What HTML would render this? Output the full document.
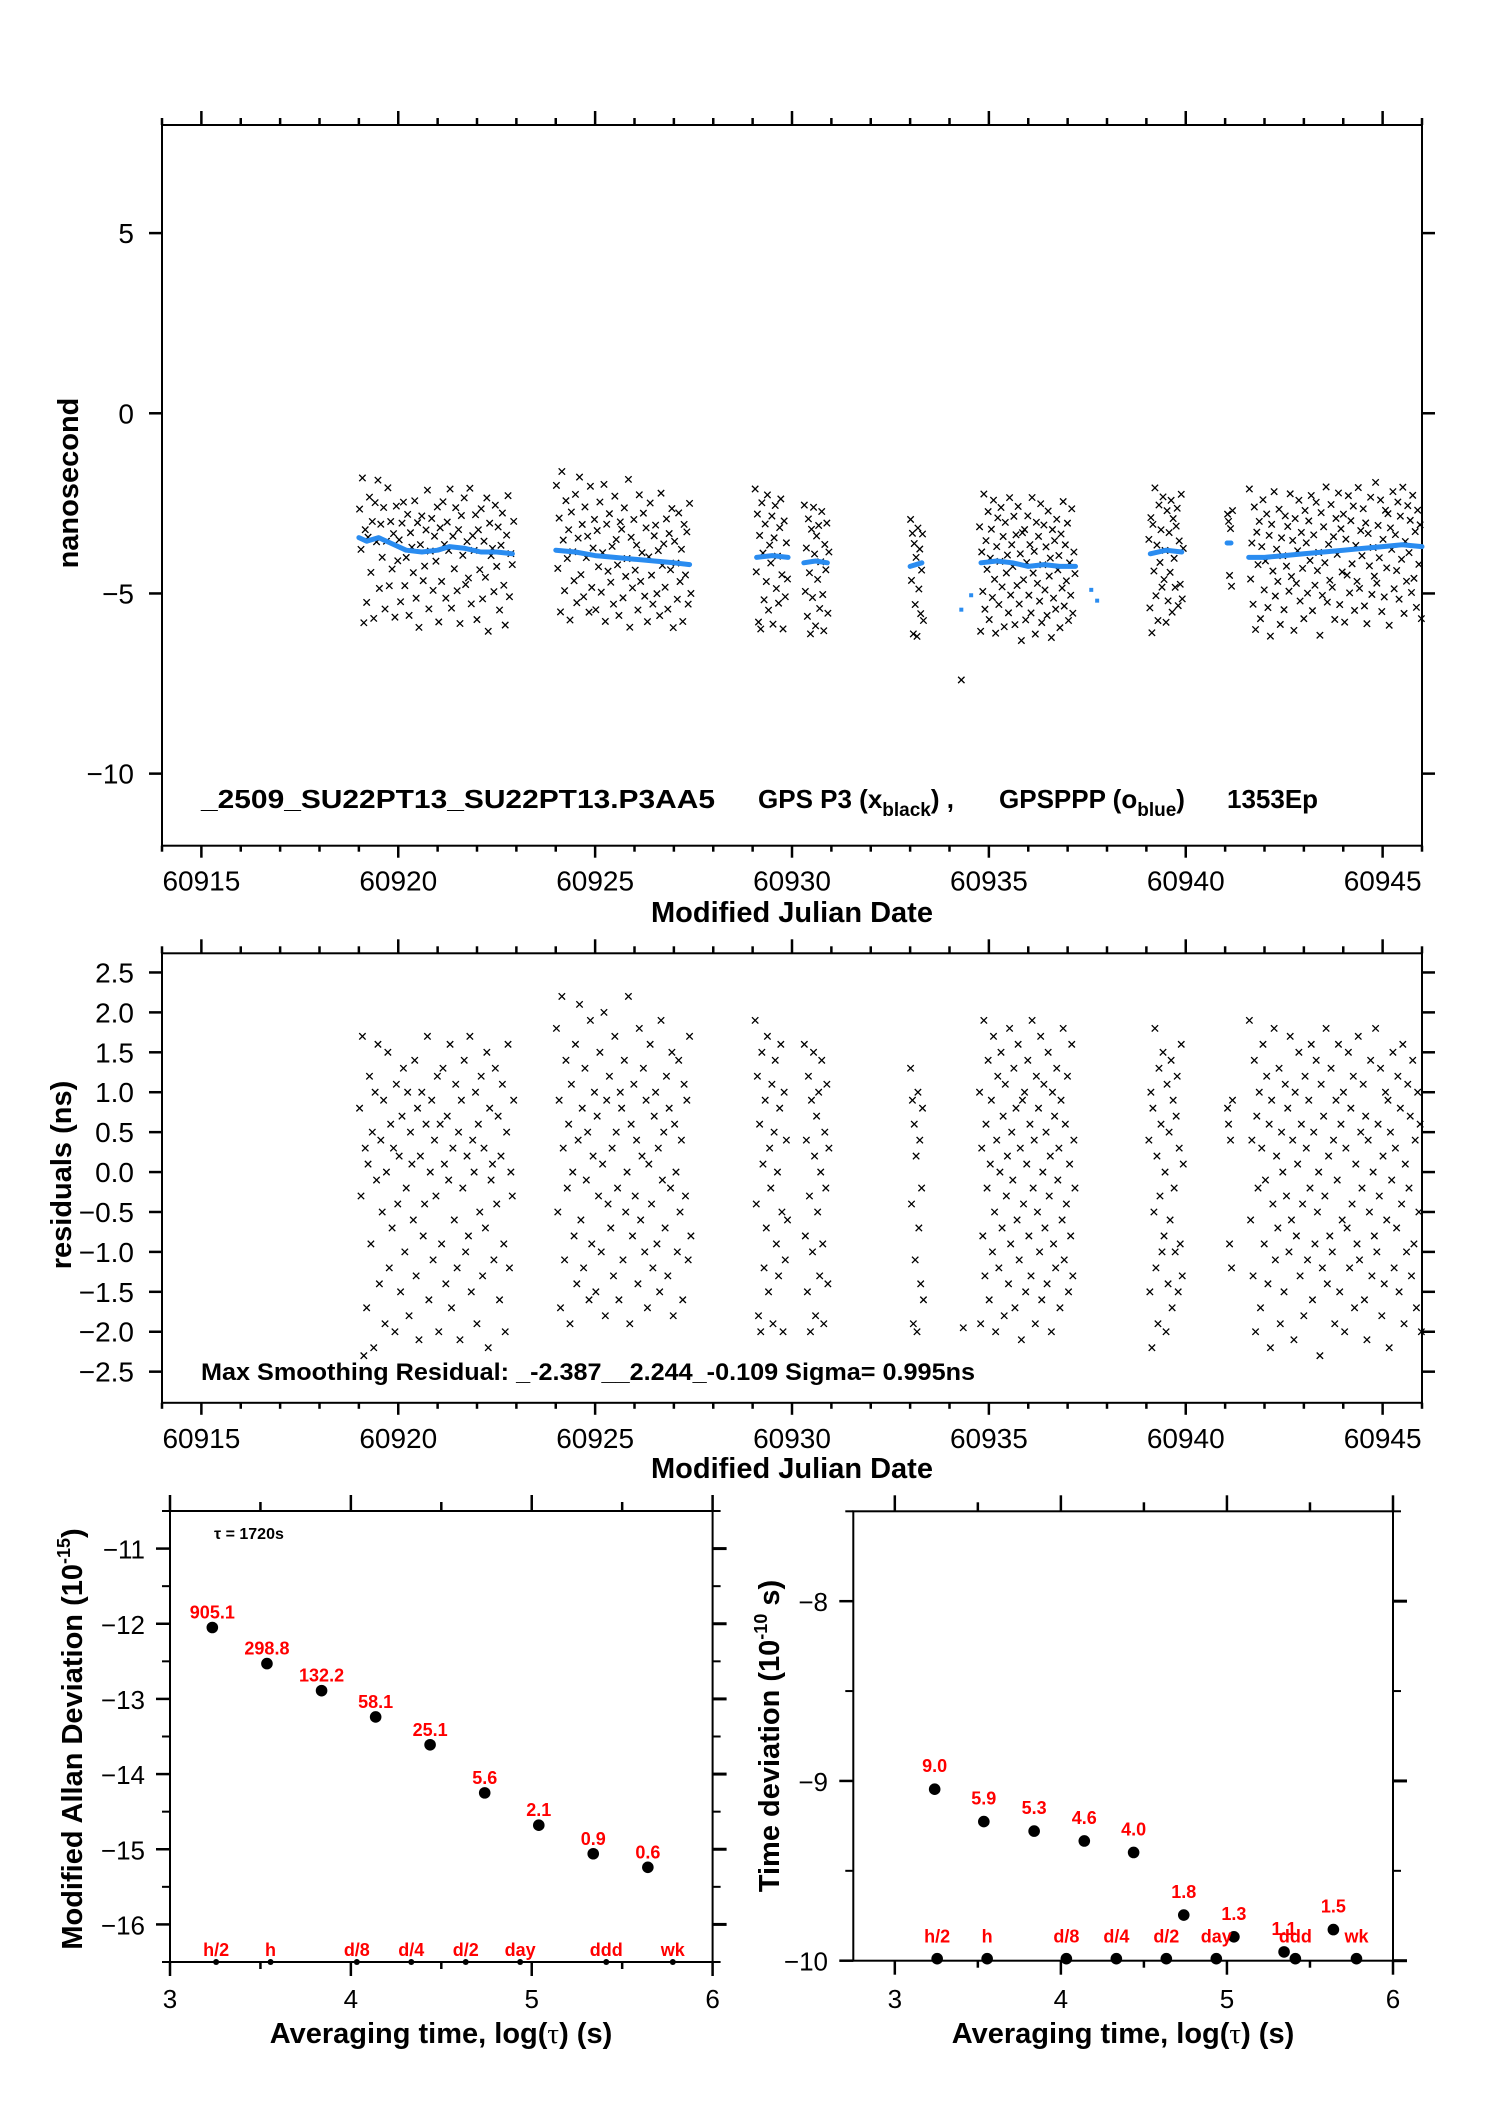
<!DOCTYPE html>
<html><head><meta charset="utf-8"><title>GPS P3 time comparison</title>
<style>
html,body{margin:0;padding:0;background:#fff;}
svg{display:block;font-family:"Liberation Sans",sans-serif;}
</style></head><body>
<svg id="fig" width="1488" height="2105" viewBox="0 0 1488 2105" xmlns="http://www.w3.org/2000/svg">
<rect width="1488" height="2105" fill="#fff"/>

<g id="p1">
  <rect x="162" y="125" width="1260" height="720.7" fill="none" stroke="#000" stroke-width="2"/>
  <text x="78" y="483" transform="rotate(-90 78 483)" text-anchor="middle" font-size="29" font-weight="bold">nanosecond</text>
  <text x="792" y="922" text-anchor="middle" font-size="29" font-weight="bold">Modified Julian Date</text>
  <text x="201" y="808" font-size="26" font-weight="bold" textLength="514" lengthAdjust="spacingAndGlyphs">_2509_SU22PT13_SU22PT13.P3AA5</text>
  <text x="758" y="808" font-size="26" font-weight="bold">GPS P3 (x<tspan font-size="19" dy="8">black</tspan><tspan dy="-8">) ,</tspan></text>
  <text x="999" y="808" font-size="26" font-weight="bold">GPSPPP (o<tspan font-size="19" dy="8">blue</tspan><tspan dy="-8">)</tspan></text>
  <text x="1227" y="808" font-size="26" font-weight="bold">1353Ep</text>
</g>

<g id="p2">
  <rect x="162" y="953.3" width="1260" height="449.5" fill="none" stroke="#000" stroke-width="2"/>
  <text x="71" y="1175" transform="rotate(-90 71 1175)" text-anchor="middle" font-size="29" font-weight="bold">residuals (ns)</text>
  <text x="792" y="1478" text-anchor="middle" font-size="29" font-weight="bold">Modified Julian Date</text>
  <text x="201" y="1380" font-size="24" font-weight="bold" textLength="774" lengthAdjust="spacingAndGlyphs">Max Smoothing Residual: _-2.387__2.244_-0.109  Sigma= 0.995ns</text>
</g>

<g id="p3">
  <rect x="170" y="1511" width="542.6" height="451" fill="none" stroke="#000" stroke-width="2"/>
  <text x="82" y="1739" transform="rotate(-90 82 1739)" text-anchor="middle" font-size="29" font-weight="bold">Modified Allan Deviation (10<tspan font-size="18" dy="-12">-15</tspan><tspan dy="12">)</tspan></text>
  <text x="441" y="2043" text-anchor="middle" font-size="29" font-weight="bold">Averaging time, log(<tspan font-family="Liberation Serif, serif" font-weight="normal">τ</tspan>) (s)</text>
  <text x="214" y="1539" font-size="16" font-weight="bold">τ = 1720s</text>
</g>

<g id="p4">
  <rect x="853.3" y="1511.3" width="539.7" height="449.4" fill="none" stroke="#000" stroke-width="2"/>
  <text x="779" y="1736" transform="rotate(-90 779 1736)" text-anchor="middle" font-size="29" font-weight="bold">Time deviation (10<tspan font-size="18" dy="-12">-10</tspan><tspan dy="12"> s)</tspan></text>
  <text x="1123" y="2043" text-anchor="middle" font-size="29" font-weight="bold">Averaging time, log(<tspan font-family="Liberation Serif, serif" font-weight="normal">τ</tspan>) (s)</text>
</g>
</svg>

<script>
// ---------- time series data ----------
const segStart = [60919.0, 60924.0, 60929.05, 60930.3, 60933.0, 60934.75, 60939.05, 60941.05, 60941.6];
const segEnd   = [60922.95, 60927.45, 60929.9, 60930.95, 60933.35, 60937.2, 60939.95, 60941.2, 60946.0];
const resA = [0.8,-0.3,1.7,-2.3,0.3,-1.7,0.1,1.2,-0.9,0.5,-2.2,1.0,-0.1,1.6,-1.4,0.4,-0.5,0.9,-1.9,0.0,1.5,-1.2,0.6,-0.7,0.3,-2.0,1.1,-0.4,0.2,-1.5,0.7,1.3,-1.0,-0.2,1.0,-1.8,0.5,0.1,-0.6,1.4,-1.3,0.8,-2.1,0.2,1.0,-0.8,-0.4,0.6,1.7,-1.6,0.0,0.9,-1.1,0.4,-0.3,1.2,-2.0,0.6,-0.9,1.3,0.1,-1.4,0.7,-0.1,1.6,-1.7,0.3,-0.6,1.1,-1.2,0.5,-2.1,0.9,-0.2,1.4,-1.0,0.2,-0.8,1.7,-1.5,0.4,0.0,1.0,-1.9,0.6,-0.5,1.2,-1.3,0.3,-0.7,1.5,-2.2,0.8,-0.1,0.1,-1.1,1.3,-0.4,0.7,-1.6,0.2,1.1,-0.9,-2.0,0.5,1.6,-1.2,0.0,-0.3,0.9];
const resB = [1.8,-0.5,0.9,-1.7,2.2,0.3,-1.1,1.4,-0.2,0.6,-1.9,1.1,0.0,-0.8,1.6,-1.4,0.4,2.1,-0.6,0.8,-1.2,1.3,-0.1,0.5,-1.6,1.9,-0.9,0.2,1.0,-1.5,0.7,-0.3,1.5,-1.0,0.1,2.0,-1.8,0.9,-0.4,1.2,-0.7,0.3,-1.3,1.7,0.5,-0.2,-1.6,1.0,0.8,-1.1,1.4,-0.5,0.0,2.2,-1.9,0.6,-0.8,1.1,-0.3,0.4,-1.4,1.8,-0.6,0.2,1.3,-1.0,0.9,-1.7,0.1,1.6,-0.4,-1.2,0.7,1.0,-0.9,0.3,-1.5,1.9,-0.1,0.5,-0.7,1.2,-1.3,0.8,-0.2,1.5,-1.8,0.6,0.0,-1.0,1.4,-0.5,0.4,-1.6,1.1,-0.3,0.9,-1.1,1.7,-0.8];
const resC1 = [1.9,-0.4,1.2,-1.8,0.6,-2.0,1.5,0.1,-1.2,0.9,-0.7,1.7,-1.5,0.3,-0.2,1.1,-1.9,0.5,1.4,-0.9,0.0,-1.3,0.8,1.6,-0.5,-2.0,1.0,-1.1,0.4,-0.6];
const resC2 = [1.6,-0.8,0.4,-1.5,1.2,-0.3,-2.0,0.9,-1.0,1.5,0.2,-1.8,0.7,-0.5,1.0,-1.3,0.0,1.4,-0.9,-1.9,0.5,-0.2,1.1,-1.4,0.3];
const resD = [1.3,-0.4,0.9,-1.9,0.6,-1.1,0.2,-2.0,1.0,-0.7,0.4,-1.4,-0.2,0.8,-1.6];
const resE = [1.0,-1.9,0.3,-0.8,1.9,-1.3,0.6,-0.2,1.4,-1.6,0.1,0.9,-1.0,1.7,-0.5,-2.0,0.4,1.2,-1.2,0.0,1.5,-0.7,0.7,-1.8,1.1,-0.3,0.2,-1.4,1.8,-0.9,0.5,-0.1,1.3,-1.7,0.8,-0.6,1.6,-1.1,0.3,-2.1,0.9,-0.4,1.0,-1.5,0.1,1.4,-0.8,0.6,-1.3,1.9,-0.2,0.4,-1.9,1.2,-0.5,0.8,-1.0,1.7,-1.6,0.0,1.1,-0.7,0.5,-1.4,1.5,-0.3,0.2,-2.0,1.0,-0.9,0.7,-1.2,1.3,-0.1,0.3,-1.7,0.9,-0.6,1.8,-1.1,0.6,-0.4,1.2,-1.5,0.1,-0.8,1.6,-1.3,0.4,-0.2];
const resF = [0.4,-1.5,1.0,-2.2,0.8,-0.5,1.8,-1.2,0.2,-1.9,1.3,-0.3,0.6,-1.0,1.5,-0.8,0.0,-2.0,1.1,-1.4,0.5,-0.6,1.4,-1.7,0.9,-0.2,-1.0,0.7,1.2,-1.5,0.3,-0.9,1.6,-1.3,0.1];
const resG1 = [0.8,0.6,-0.9,0.4,-1.2,0.9];
const resG2 = [1.9,-0.6,0.4,-1.3,1.4,-2.0,0.7,-0.2,1.0,-1.7,0.3,1.6,-0.9,-0.1,1.2,-1.4,0.6,-2.2,0.9,-0.4,1.8,-1.1,0.2,-0.7,1.3,-1.9,0.5,0.0,-1.5,1.1,-0.3,0.8,-1.0,1.7,-0.6,0.4,-2.1,1.0,-0.8,0.1,1.5,-1.3,0.6,-0.4,-1.8,1.2,0.3,-1.1,0.9,-0.2,1.6,-1.6,0.5,-0.9,1.4,-0.5,0.0,-2.3,1.1,-1.2,0.7,-0.3,1.8,-1.4,0.2,-0.8,1.3,-1.0,0.4,-1.9,0.9,-0.1,1.6,-1.5,0.6,-0.6,1.0,-2.0,0.3,-0.7,1.5,-1.2,0.8,-0.4,1.2,-1.7,0.1,-0.9,1.7,-1.1,0.5,-0.2,1.1,-1.6,0.7,-2.1,0.4,-0.5,1.4,-1.3,0.0,-0.8,1.8,-1.0,0.6,-0.3,1.3,-1.8,0.2,-1.4,1.0,-0.6,0.9,-2.2,0.5,-0.1,1.5,-1.2,0.3,-0.7,1.2,-1.5,0.8,-0.4,1.6,-1.9,0.1,-1.0,1.1,-0.2,0.7,-1.3,1.4,-0.9,0.4,-1.7,1.0,-0.5,0.6,-2.0];
const segResid = [resA, resB, resC1, resC2, resD, resE, resF, resG1, resG2];
const smoothT = [60919.0,60919.2,60919.5,60919.8,60920.2,60920.6,60921.0,60921.3,60921.7,60922.1,60922.5,60922.9,null,60924.0,60924.5,60925.0,60925.5,60926.0,60926.5,60927.0,60927.4,null,60929.1,60929.5,60929.9,null,60930.3,60930.6,60930.9,null,60933.0,60933.3,null,60934.8,60935.2,60935.6,60936.0,60936.4,60936.8,60937.2,null,60939.1,60939.5,60939.9,null,60941.05,60941.15,null,60941.6,60942.0,60942.5,60943.0,60943.5,60944.0,60944.5,60945.0,60945.5,60946.0];
const smoothV = [-3.45,-3.55,-3.45,-3.6,-3.8,-3.85,-3.8,-3.7,-3.75,-3.85,-3.85,-3.9,null,-3.8,-3.85,-3.95,-4.0,-4.05,-4.1,-4.15,-4.2,null,-4.0,-3.95,-4.0,null,-4.15,-4.1,-4.15,null,-4.25,-4.15,null,-4.15,-4.1,-4.15,-4.25,-4.2,-4.25,-4.25,null,-3.9,-3.8,-3.85,null,-3.6,-3.6,null,-4.0,-4.0,-3.95,-3.9,-3.85,-3.8,-3.75,-3.7,-3.65,-3.7];
const blueT = [60934.3, 60934.55, 60937.6, 60937.75];
const blueV = [-5.45, -5.05, -4.9, -5.2];
const outT = [60934.3];
const outV = [-7.4];
const extraResT = [60934.35];
const extraResV = [-1.95];
const mjdTicks = [60915, 60920, 60925, 60930, 60935, 60940, 60945];
const p1YTicks = [5, 0, -5, -10];
const p2YTicks = [2.5, 2.0, 1.5, 1.0, 0.5, 0.0, -0.5, -1.0, -1.5, -2.0, -2.5];

// ---------- stability data ----------
const mdevLogTau = [3.234, 3.536, 3.838, 4.137, 4.438, 4.740, 5.039, 5.340, 5.642];
const mdevVal = [-12.05, -12.53, -12.89, -13.24, -13.61, -14.25, -14.68, -15.06, -15.24];
const mdevLabels = ['905.1', '298.8', '132.2', '58.1', '25.1', '5.6', '2.1', '0.9', '0.6'];
const tdevLogTau = [3.240, 3.536, 3.839, 4.141, 4.438, 4.740, 5.042, 5.344, 5.641];
const tdevVal = [-9.046, -9.226, -9.279, -9.334, -9.398, -9.746, -9.867, -9.951, -9.827];
const tdevLabels = ['9.0', '5.9', '5.3', '4.6', '4.0', '1.8', '1.3', '1.1', '1.5'];
const markLogTau = [3.255, 3.556, 4.033, 4.334, 4.635, 4.936, 5.412, 5.780];
const markNames = ['h/2', 'h', 'd/8', 'd/4', 'd/2', 'day', 'ddd', 'wk'];
const mdevYTicks = [-11, -12, -13, -14, -15, -16];
const tdevYTicks = [-8, -9, -10];
const tauTicks = [3, 4, 5, 6];

// ---------- scales ----------
const NS = 'http://www.w3.org/2000/svg';
function sx1(m) { return 162 + (m - 60914) / 32 * 1260; }
function sy1(v) { return 125 + (8 - v) / 20 * 720.7; }
function sy2(v) { return 953.3 + (2.74 - v) / 5.63 * 449.5; }
function sx3(t) { return 170 + (t - 3) / 3 * 542.6; }
function sy3(v) { return 1511 + (-10.5 - v) / 6 * 451; }
function sx4(t) { return 853.3 + (t - 2.75) / 3.25 * 539.7; }
function sy4(v) { return 1511.3 + (-7.5 - v) / 2.5 * 449.4; }
function mk(tag, attrs, parent) {
  const e = document.createElementNS(NS, tag);
  for (const k in attrs) e.setAttribute(k, attrs[k]);
  parent.appendChild(e);
  return e;
}
function fmt(v, d) { const s = Math.abs(v).toFixed(d); return (v < 0 ? '\u2212' : '') + s; }
function smoothAt(t) {
  let best = null, bd = 1e9;
  for (let i = 0; i < smoothT.length; i++) {
    if (smoothT[i] === null) continue;
    if (i + 1 < smoothT.length && smoothT[i + 1] !== null && t >= smoothT[i] && t <= smoothT[i + 1]) {
      const f = (t - smoothT[i]) / (smoothT[i + 1] - smoothT[i]);
      return smoothV[i] + f * (smoothV[i + 1] - smoothV[i]);
    }
    const d = Math.abs(t - smoothT[i]);
    if (d < bd) { bd = d; best = smoothV[i]; }
  }
  return best;
}
function crossPath(x, y, h) {
  return 'M' + (x - h) + ' ' + (y - h) + 'L' + (x + h) + ' ' + (y + h) + 'M' + (x - h) + ' ' + (y + h) + 'L' + (x + h) + ' ' + (y - h);
}

const p1 = document.getElementById('p1');
const p2 = document.getElementById('p2');
const p3 = document.getElementById('p3');
const p4 = document.getElementById('p4');

// ---------- MJD axes (top & middle) ----------
function mjdAxes(g, yTop, yBot, name) {
  for (let d = 60914; d <= 60946; d++) {
    const x = sx1(d);
    const major = d % 5 === 0;
    const t1 = mk('line', {x1: x, x2: x, y1: yTop, y2: yTop - (major ? 14 : 7), stroke: '#000', 'stroke-width': 2.5}, g);
    
    
    const t2 = mk('line', {x1: x, x2: x, y1: yBot, y2: yBot + (major ? 12 : 6), stroke: '#000', 'stroke-width': 2.5}, g);
    
    
  }
  mjdTicks.forEach(function (d) {
    const lb = mk('text', {x: sx1(d), y: yBot + 45, 'text-anchor': 'middle', 'font-size': 28}, g);
    lb.textContent = String(d);
    
    
  });
}
mjdAxes(p1, 125, 845.7, 'mjd-top');
mjdAxes(p2, 953.3, 1402.8, 'mjd-middle');

function yAxis(g, vals, sy, xl, xr, dec, name, fs, lx) {
  vals.forEach(function (v) {
    const y = sy(v);
    const a = mk('line', {x1: xl - 13, x2: xl, y1: y, y2: y, stroke: '#000', 'stroke-width': 2.5}, g);
    
    
    const b = mk('line', {x1: xr, x2: xr + 13, y1: y, y2: y, stroke: '#000', 'stroke-width': 2.5}, g);
    
    
    const lb = mk('text', {x: lx, y: y + 10, 'text-anchor': 'end', 'font-size': fs}, g);
    lb.textContent = fmt(v, dec);
    
    
  });
}
yAxis(p1, p1YTicks, sy1, 162, 1422, 0, 'ns-y', 28, 134);
yAxis(p2, p2YTicks, sy2, 162, 1422, 1, 'resid-y', 28, 134);

// ---------- scatter: residuals and raw ----------
segResid.forEach(function (arr, s) {
  const n = arr.length;
  arr.forEach(function (r, i) {
    const t = segStart[s] + (i + 0.5) / n * (segEnd[s] - segStart[s]);
    const pm = mk('path', {d: crossPath(sx1(t), sy2(r), 3.2), stroke: '#000', 'stroke-width': 1.3, fill: 'none'}, p2);
    
    
    const pr = mk('path', {d: crossPath(sx1(t), sy1(smoothAt(t) + r), 3.2), stroke: '#000', 'stroke-width': 1.3, fill: 'none'}, p1);
    
    
  });
});
extraResT.forEach(function (t, i) {
  const pm = mk('path', {d: crossPath(sx1(t), sy2(extraResV[i]), 3.2), stroke: '#000', 'stroke-width': 1.3, fill: 'none'}, p2);
  
  
});
outT.forEach(function (t, i) {
  const pr = mk('path', {d: crossPath(sx1(t), sy1(outV[i]), 3.2), stroke: '#000', 'stroke-width': 1.3, fill: 'none'}, p1);
  
  
});

// ---------- blue smoothing ----------
let pts = [];
function flushLine() {
  if (pts.length) {
    const pl = mk('polyline', {points: pts.join(' '), fill: 'none', stroke: '#2a8cf0', 'stroke-width': 5, 'stroke-linecap': 'round', 'stroke-linejoin': 'round'}, p1);
    
    
  }
  pts = [];
}
for (let i = 0; i < smoothT.length; i++) {
  if (smoothT[i] === null) { flushLine(); continue; }
  pts.push(sx1(smoothT[i]).toFixed(1) + ',' + sy1(smoothV[i]).toFixed(1));
}
flushLine();
blueT.forEach(function (t, i) {
  const c = mk('rect', {x: sx1(t) - 2, y: sy1(blueV[i]) - 2, width: 4, height: 4, fill: '#2a8cf0'}, p1);
  
  
});

// ---------- stability panels ----------
function tauXAxis(g, sx, yTop, yBot, name) {
  [3, 3.5, 4, 4.5, 5, 5.5, 6].forEach(function (t) {
    const major = Number.isInteger(t);
    const x = sx(t);
    const a = mk('line', {x1: x, x2: x, y1: yTop, y2: yTop - (major ? 16 : 9), stroke: '#000', 'stroke-width': 2.5}, g);
    
    
    const b = mk('line', {x1: x, x2: x, y1: yBot, y2: yBot + (major ? 14 : 7), stroke: '#000', 'stroke-width': 2.5}, g);
    
    
  });
  tauTicks.forEach(function (t) {
    const lb = mk('text', {x: sx(t), y: 2008, 'text-anchor': 'middle', 'font-size': 26}, g);
    lb.textContent = String(t);
    
    
  });
}
tauXAxis(p3, sx3, 1511, 1962, 'mdev');
tauXAxis(p4, sx4, 1511.3, 1960.7, 'tdev');

function stabYAxis(g, majors, minors, sy, xl, xr, name, lx) {
  majors.forEach(function (v) {
    const y = sy(v);
    const a = mk('line', {x1: xl - 14, x2: xl, y1: y, y2: y, stroke: '#000', 'stroke-width': 2.5}, g);
    
    
    const b = mk('line', {x1: xr, x2: xr + 14, y1: y, y2: y, stroke: '#000', 'stroke-width': 3}, g);
    
    
    const lb = mk('text', {x: lx, y: y + 10, 'text-anchor': 'end', 'font-size': 26}, g);
    lb.textContent = fmt(v, 0);
    
    
  });
  minors.forEach(function (v) {
    const y = sy(v);
    const b = mk('line', {x1: xr, x2: xr + 8, y1: y, y2: y, stroke: '#000', 'stroke-width': 2}, g);
    
    
    const a = mk('line', {x1: xl - 8, x2: xl, y1: y, y2: y, stroke: '#000', 'stroke-width': 2}, g);
    
    
  });
}
stabYAxis(p3, mdevYTicks, [-10.5, -11.5, -12.5, -13.5, -14.5, -15.5, -16.5], sy3, 170, 712.6, 'mdev', 145);
stabYAxis(p4, tdevYTicks, [-7.5, -8.5, -9.5], sy4, 853.3, 1393, 'tdev', 828);

mdevLogTau.forEach(function (t, i) {
  const c = mk('circle', {cx: sx3(t), cy: sy3(mdevVal[i]), r: 5.8, fill: '#000'}, p3);
  
  
  const lb = mk('text', {x: sx3(t), y: sy3(mdevVal[i]) - 9, 'text-anchor': 'middle', 'font-size': 18, 'font-weight': 'bold', fill: '#ff0000'}, p3);
  lb.textContent = mdevLabels[i];
  
  
});
tdevLogTau.forEach(function (t, i) {
  const c = mk('circle', {cx: sx4(t), cy: sy4(tdevVal[i]), r: 5.8, fill: '#000'}, p4);
  
  
  const lb = mk('text', {x: sx4(t), y: sy4(tdevVal[i]) - 17, 'text-anchor': 'middle', 'font-size': 18, 'font-weight': 'bold', fill: '#ff0000'}, p4);
  lb.textContent = tdevLabels[i];
  
  
});
markLogTau.forEach(function (t, i) {
  const d3 = mk('circle', {cx: sx3(t), cy: 1962, r: 3, fill: '#000'}, p3);
  
  
  const l3 = mk('text', {x: sx3(t), y: 1956, 'text-anchor': 'middle', 'font-size': 18, 'font-weight': 'bold', fill: '#ff0000'}, p3);
  l3.textContent = markNames[i];
  
  
  const d4 = mk('circle', {cx: sx4(t), cy: 1958.7, r: 5.8, fill: '#000'}, p4);
  
  
  const l4 = mk('text', {x: sx4(t), y: 1942.7, 'text-anchor': 'middle', 'font-size': 18, 'font-weight': 'bold', fill: '#ff0000'}, p4);
  l4.textContent = markNames[i];
  
  
});
</script>
</body></html>
